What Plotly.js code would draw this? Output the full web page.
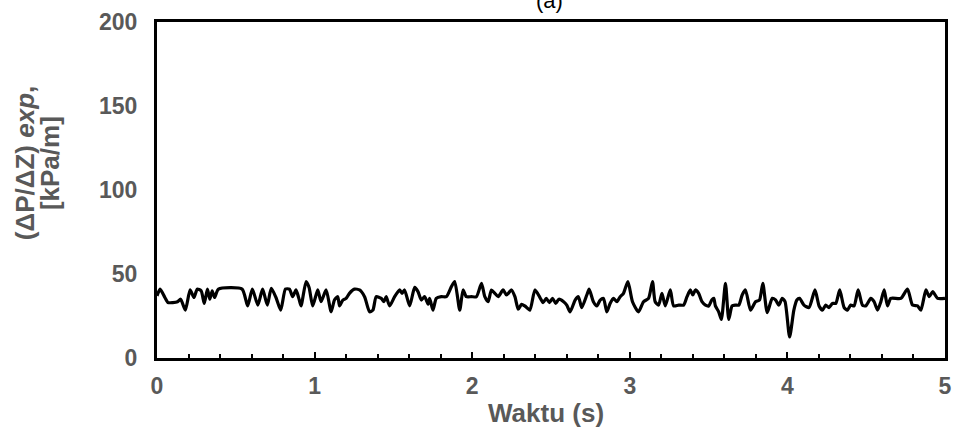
<!DOCTYPE html>
<html>
<head>
<meta charset="utf-8">
<script src="https://cdn.plot.ly/plotly-3.0.1.min.js"></script>
<style>html,body{margin:0;padding:0;background:#fff;}#chart{width:956px;height:445px;}</style>
</head>
<body>
<div id="chart"></div>
<script>
const timeS = [0.00,0.02,0.05,0.07,0.10,0.13,0.15,0.18,0.21,0.235,0.255,0.28,0.30,0.32,0.335,0.35,0.365,0.39,0.54,0.575,0.605,0.64,0.67,0.70,0.725,0.755,0.785,0.815,0.84,0.861,0.882,0.90,0.914,0.946,0.965,0.988,1.020,1.041,1.073,1.105,1.126,1.147,1.158,1.179,1.200,1.221,1.253,1.285,1.317,1.349,1.370,1.391,1.423,1.44,1.454,1.476,1.508,1.540,1.555,1.571,1.603,1.635,1.656,1.677,1.698,1.720,1.730,1.751,1.772,1.804,1.836,1.868,1.889,1.921,1.942,1.963,1.995,2.027,2.059,2.080,2.101,2.122,2.144,2.165,2.196,2.218,2.249,2.271,2.292,2.313,2.334,2.366,2.398,2.43,2.45,2.47,2.49,2.51,2.53,2.55,2.58,2.60,2.621,2.653,2.674,2.695,2.727,2.742,2.769,2.791,2.812,2.833,2.854,2.875,2.896,2.918,2.939,2.960,2.988,3.017,3.055,3.087,3.119,3.144,3.161,3.183,3.204,3.225,3.257,3.278,3.310,3.342,3.363,3.384,3.40,3.416,3.437,3.458,3.480,3.501,3.52,3.533,3.543,3.564,3.581,3.607,3.628,3.649,3.670,3.692,3.713,3.734,3.766,3.798,3.823,3.844,3.872,3.904,3.925,3.946,3.967,3.985,4.014,4.041,4.060,4.077,4.105,4.137,4.175,4.201,4.222,4.243,4.264,4.286,4.307,4.332,4.360,4.381,4.402,4.423,4.449,4.476,4.497,4.529,4.550,4.572,4.593,4.614,4.635,4.656,4.720,4.762,4.794,4.826,4.847,4.879,4.900,4.922,4.953,5.00];
const dpdzExp = [37,41,36,33,33,33.5,35,28.5,40.5,36,41,40,32.5,41,35,40,36,41,41,31,41,31.5,41,31.5,41.5,36,28.5,41,41,36.5,40.5,35.5,31,45.5,42,31,40.5,33.5,40.5,27.5,34.5,36.5,31,34.5,35.5,38.5,41,40.5,36.5,27.5,28.5,36.5,35.5,33.5,36.5,31,36.5,40.5,38.5,40.5,31,42,39.5,34.5,36.5,32,35.5,28.5,35.5,36.5,36.5,42.5,45.5,28.5,40.5,36.5,36.5,36.5,44.5,36.5,33.5,40.5,38.5,36.5,40.5,37.5,40.5,36.5,29,32,31,28.5,40.5,36,33,35.5,33,35.5,32.5,35,33.5,31.5,27.5,34.5,36.5,30,37.5,41,33.5,31,34.5,35.5,27.5,32.5,35.5,33.5,36.5,38.5,45.5,33.5,27.5,33.5,35.5,45.5,33.5,31.5,38.5,31,40.5,31,31.5,31.5,36.5,40.5,37.5,40.5,38.5,33.5,31.5,31,34.5,35.5,31,27.5,23,44.5,23,31,31.5,31.5,37.5,40.5,28.5,33.5,34.5,44.5,27,35.5,34.5,31.5,35.5,33.5,12.5,28.5,34.5,35.5,31.5,30,40.5,31,28.5,31.5,30,32.5,32.5,40.5,30,28.5,31.5,31,40.5,31.5,31,35.5,33.5,28.5,33.5,40.5,31,35.5,35.5,41,31.5,31,28.5,40.5,36.5,39.5,35.5,35.5];
const xTickVals = [0,1,2,3,4,5];
const yTickVals = [0,50,100,150,200];
const chartTitle = '(a)';
const xTitle = 'Waktu (s)';
const yTitleLine1 = '<b>(ΔP/ΔZ) <i>exp</i>,</b>';
const yTitleLine2 = '<b>[kPa/m]</b>';

const FONT = '"Liberation Sans", Arial, sans-serif';
const GRAY = '#595959';

const trace = {
  x: timeS, y: dpdzExp, type: 'scatter', mode: 'lines',
  line: {color: '#000000', width: 3.2, shape: 'spline', smoothing: 0.6},
  hoverinfo: 'skip'
};

const layout = {
  width: 956, height: 445,
  margin: {l: 157, r: 11, t: 22, b: 87},
  paper_bgcolor: '#ffffff', plot_bgcolor: '#ffffff',
  showlegend: false,
  xaxis: {
    range: [0, 5], tickvals: xTickVals, ticktext: xTickVals.map(String),
    showgrid: false, zeroline: false,
    showline: true, linecolor: '#000', linewidth: 3, mirror: true,
    ticks: 'inside', ticklen: 6, tickwidth: 2, tickcolor: '#000',
    minor: {dtick: 0.2, ticks: 'inside', ticklen: 4, tickwidth: 2, tickcolor: '#000', showgrid: false},
    tickfont: {family: FONT, size: 23, color: GRAY, weight: 'bold'},
    ticklabelstandoff: 5
  },
  yaxis: {
    range: [0, 200], tickvals: yTickVals, ticktext: yTickVals.map(String),
    showgrid: false, zeroline: false,
    showline: true, linecolor: '#000', linewidth: 3, mirror: true,
    ticks: '',
    tickfont: {family: FONT, size: 23, color: GRAY, weight: 'bold'},
    ticklabelstandoff: 12
  },
  annotations: [
    {text: chartTitle, xref: 'paper', yref: 'paper', x: 0.498, y: 1, yshift: 22,
     xanchor: 'center', yanchor: 'middle', showarrow: false,
     font: {family: FONT, size: 22, color: '#000'}},
    {text: '<b>' + xTitle + '</b>', xref: 'paper', yref: 'paper', x: 0.494, y: -0.164,
     xanchor: 'center', yanchor: 'middle', showarrow: false,
     font: {family: FONT, size: 26, color: GRAY}},
    {text: yTitleLine1, xref: 'paper', yref: 'paper', x: -0.1675, y: 0.58,
     xanchor: 'center', yanchor: 'middle', showarrow: false, textangle: -90,
     font: {family: FONT, size: 26, color: GRAY}},
    {text: yTitleLine2, xref: 'paper', yref: 'paper', x: -0.1358, y: 0.58,
     xanchor: 'center', yanchor: 'middle', showarrow: false, textangle: -90,
     font: {family: FONT, size: 26, color: GRAY}}
  ]
};

Plotly.newPlot('chart', [trace], layout, {staticPlot: true, displayModeBar: false});
</script>
</body>
</html>
